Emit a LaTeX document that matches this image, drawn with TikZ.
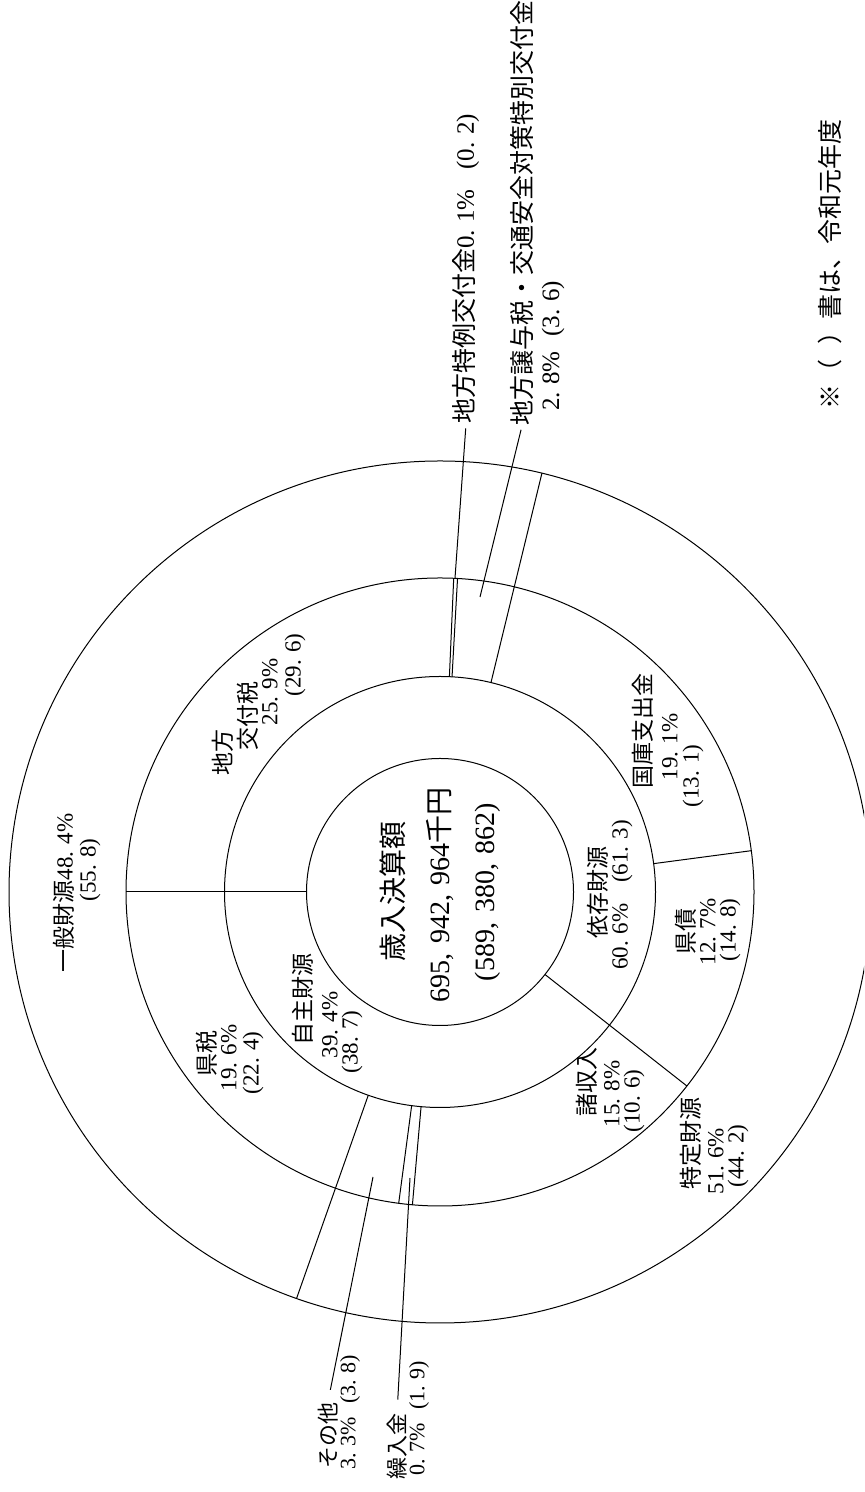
\documentclass[tikz,border=0pt]{standalone}
\usepackage{fontspec}
\setmainfont{Liberation Serif}
\newfontfamily\jp{Noto Sans CJK JP}
\newcommand\J[1]{{\jp #1}}
\newcommand\dt{.\hspace{0.3em}}
\newcommand\cm{,\hspace{0.35em}}
\begin{document}
\begin{tikzpicture}[x=0.5pt,y=0.5pt,
  ring/.style={line width=0.5pt},
  seg/.style={line width=0.5pt},
  lead/.style={line width=0.5pt},
  lbl/.style={rotate=90,inner sep=0pt,font=\fontsize{11.5}{13}\selectfont},
  olbl/.style={rotate=90,inner sep=0pt,font=\fontsize{12.5}{14}\selectfont},
  blbl/.style={rotate=90,inner sep=0pt,font=\fontsize{11}{13}\selectfont},
  ctr/.style={rotate=90,inner sep=0pt,font=\fontsize{14}{16}\selectfont}]
\clip (0,0) rectangle (864,1492);
\useasboundingbox (0,0) rectangle (864,1492);
\coordinate (C) at (440,600);
% circles
\draw[ring] (C) circle[radius=133.5];
\draw[ring] (C) circle[radius=215.5];
\draw[ring] (C) circle[radius=314];
\draw[ring] (C) circle[radius=431];
% segment boundaries
\begin{scope}[shift={(C)}]
\foreach \a in {180,-38.16} \draw[seg] (\a:133.5) -- (\a:314);
\foreach \a in {87.5,86.8,7.56,-95.04,-97.56} \draw[seg] (\a:215.5) -- (\a:314);
\foreach \a in {76.32,-109.44} \draw[seg] (\a:215.5) -- (\a:431);
\end{scope}
% centre
\node[ctr] (t1) at (393,600) {\J{歳入決算額}};
\node[ctr] (t2) at (440,597) {695\cm942\cm964\J{千円}};
\node[ctr] (t3) at (488,600) {(589\cm380\cm862)};
% inner ring
\node[lbl] (jishu1) at (303,492) {\J{自主財源}};
\node[lbl] (jishu2) at (330,467) {39\dt4\%};
\node[lbl] (jishu3) at (352,450) {(38\dt7)};
\node[lbl] (izon1) at (598,599) {\J{依存財源}};
\node[lbl] (izon2) at (622,597) {60\dt6\%\hspace{0.9em}(61\dt3)};
% middle ring
\node[lbl] (kofu1) at (223,739) {\J{地方}};
\node[lbl] (kofu2) at (248,776) {\J{交付税}};
\node[lbl] (kofu3) at (270,800) {25\dt9\%};
\node[lbl] (kofu4) at (295,827) {(29\dt6)};
\node[lbl] (kenzei1) at (207,438) {\J{県税}};
\node[lbl] (kenzei2) at (229,434) {19\dt6\%};
\node[lbl] (kenzei3) at (253,429) {(22\dt4)};
\node[lbl] (kokko1) at (643,761) {\J{国庫支出金}};
\node[lbl] (kokko2) at (670,745) {19\dt1\%};
\node[lbl] (kokko3) at (693,716) {(13\dt1)};
\node[lbl] (kensai1) at (686,560) {\J{県債}};
\node[lbl] (kensai2) at (708,560) {12\dt7\%};
\node[lbl] (kensai3) at (730,562) {(14\dt8)};
\node[lbl] (sho1) at (587,410) {\J{諸収入}};
\node[lbl] (sho2) at (612,398) {15\dt8\%};
\node[lbl] (sho3) at (634,391) {(10\dt6)};
% outer ring
\node[lbl] (ippan1) at (64,599) {\J{一般財源}48\dt4\%};
\node[lbl] (ippan2) at (90,622) {(55\dt8)};
\node[lbl] (tokutei1) at (691,348) {\J{特定財源}};
\node[lbl] (tokutei2) at (716,331) {51\dt6\%};
\node[lbl] (tokutei3) at (738,336) {(44\dt2)};
% outside labels
\node[olbl] (tok) at (466,1223) {\J{地方特例交付金}0\dt1\%\hspace{0.8em}(0\dt2)};
\node[olbl] (joy) at (522,1279) {\J{地方譲与税・交通安全対策特別交付金}};
\node[olbl] (joy2) at (553,1146) {2\dt8\%\hspace{0.6em}(3\dt6)};
\node[blbl] (sono1) at (328,57) {\J{その他}};
\node[blbl] (sono2) at (350,80) {3\dt3\%\hspace{0.6em}(3\dt8)};
\node[blbl] (kuri1) at (397,45) {\J{繰入金}};
\node[blbl] (kuri2) at (419,74) {0\dt7\%\hspace{0.6em}(1\dt9)};
\node[olbl] (note) at (830,1227) {\J{※（\hspace{0.6em}）書は、令和元年度}};
% leaders
\coordinate (tokE) at (455,914);
\coordinate (joyE) at (480,895);
\coordinate (sonoE) at (373,315);
\coordinate (kuriE) at (410,314);
\draw[lead,shorten <=2pt] (tok.west) -- (tokE);
\draw[lead,shorten <=2pt] (joy.west) -- (joyE);
\draw[lead,shorten <=6pt] (sono1.east) -- (sonoE);
\draw[lead,shorten <=7pt] (kuri1.east) -- (kuriE);
\end{tikzpicture}
\end{document}
